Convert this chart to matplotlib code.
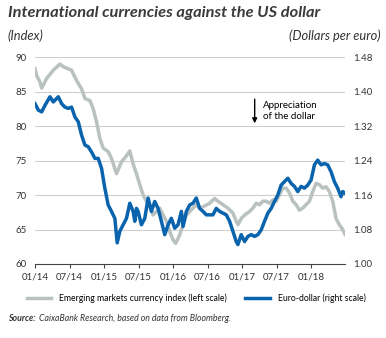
import numpy as np
import matplotlib
matplotlib.use("Agg")
import matplotlib.pyplot as plt
from matplotlib.lines import Line2D

plt.rcParams['font.family'] = ['Lato', 'DejaVu Sans']

# months counted from January 2014
em_months = [0, 0.29, 0.87, 1.16, 2.02, 3.18, 4.34, 4.92, 5.78, 6.36, 7.23, 8.10,
             8.68, 9.54, 10.12, 10.70, 11.28, 11.86, 12.72, 13.30, 14.17, 15.04,
             15.91, 16.48, 17.06, 17.64, 18.22, 18.80, 19.38, 19.96, 20.53, 21.11,
             21.69, 22.27, 22.85, 23.43, 24.00, 24.47, 25.16, 25.74, 26.32, 26.90,
             27.47, 28.05, 28.63, 29.21, 30.37, 31.23, 31.81, 32.68, 33.55, 34.41,
             34.99, 35.30, 35.86, 36.44, 37.31, 37.89, 38.46, 39.04, 39.62, 40.20,
             40.78, 41.36, 41.93, 42.51, 43.09, 43.67, 44.25, 44.83, 45.41, 45.98,
             46.56, 47.14, 47.72, 48.30, 48.88, 49.45, 50.03, 50.61, 51.19, 51.77,
             52.35, 52.92, 53.50, 53.91]
em_index = [88.3, 87.3, 86.4, 85.5, 86.9, 88.1, 89.0, 88.6, 88.3, 88.1, 86.6, 85.4,
            84.0, 83.7, 82.5, 80.6, 78.2, 76.8, 76.3, 75.3, 73.1, 74.8,
            75.7, 76.4, 74.5, 73.1, 71.5, 70.0, 69.1, 68.3, 67.1, 67.6,
            68.1, 67.1, 66.2, 64.7, 63.5, 63.0, 64.2, 65.7, 67.1, 67.6,
            68.1, 68.6, 68.1, 68.3, 68.8, 69.5, 69.1, 68.6, 68.1, 67.4,
            66.2, 65.7, 66.6, 67.1, 67.6, 68.1, 68.8, 68.6, 69.1, 69.1,
            68.8, 69.3, 69.1, 70.0, 71.0, 71.0, 70.3, 69.1, 68.6, 67.8,
            68.1, 68.6, 69.1, 70.5, 71.7, 71.5, 71.0, 71.2, 70.5, 69.1,
            66.6, 65.7, 65.0, 64.3]

eur_months = [0, 0.58, 1.16, 1.73, 2.60, 3.18, 4.05, 4.63, 5.20, 5.78, 6.36, 6.94,
              7.52, 8.10, 8.68, 9.25, 9.83, 10.41, 10.99, 11.57, 12.14, 12.72,
              13.30, 13.88, 14.29, 14.75, 15.33, 15.91, 16.48, 17.06, 17.35, 17.64,
              17.93, 18.22, 18.51, 19.09, 19.67, 20.24, 20.82, 21.40, 21.98, 22.56,
              23.14, 23.71, 24.29, 24.87, 25.45, 25.74, 26.32, 26.90, 27.47, 28.05,
              28.63, 29.21, 29.79, 30.37, 30.94, 31.52, 32.10, 32.68, 33.26, 33.84,
              34.41, 34.99, 35.28, 35.86, 36.44, 37.02, 37.60, 38.17, 38.75, 39.33,
              39.91, 40.49, 41.07, 41.64, 42.22, 42.80, 43.38, 43.96, 44.54, 45.12,
              45.69, 46.27, 46.85, 47.43, 48.01, 48.59, 49.16, 49.74, 50.32, 50.90,
              51.48, 52.06, 52.63, 53.21, 53.50, 53.91]
eur_usd = [1.372, 1.357, 1.353, 1.368, 1.388, 1.376, 1.388, 1.372, 1.364, 1.361, 1.364, 1.341,
           1.330, 1.299, 1.276, 1.272, 1.260, 1.245, 1.245, 1.222, 1.176, 1.137,
           1.122, 1.106, 1.049, 1.076, 1.091, 1.106, 1.141, 1.122, 1.099, 1.129,
           1.122, 1.106, 1.091, 1.106, 1.153, 1.122, 1.145, 1.129, 1.099, 1.068,
           1.091, 1.106, 1.083, 1.091, 1.122, 1.087, 1.122, 1.137, 1.141, 1.153,
           1.129, 1.122, 1.114, 1.114, 1.114, 1.129, 1.122, 1.118, 1.114, 1.099,
           1.076, 1.052, 1.045, 1.068, 1.052, 1.064, 1.068, 1.064, 1.068, 1.079,
           1.099, 1.118, 1.129, 1.145, 1.160, 1.183, 1.191, 1.199, 1.187, 1.180,
           1.168, 1.180, 1.176, 1.183, 1.195, 1.230, 1.241, 1.230, 1.233, 1.230,
           1.214, 1.191, 1.176, 1.156, 1.168, 1.164]

tick_months = [0, 6, 12, 18, 24, 30, 36, 42, 48]
tick_labels = ['01/14', '07/14', '01/15', '07/15', '01/16', '07/16', '01/17', '07/17', '01/18']
left_ticks = [60, 65, 70, 75, 80, 85, 90]
right_ticks = [1.00, 1.08, 1.16, 1.24, 1.32, 1.40, 1.48]

GRAY = '#b9c1c1'
BLUE = '#0a64ad'
TXT = '#333333'

fig = plt.figure(figsize=(3.86, 3.38), dpi=100)
ax = fig.add_axes([0.0907, 0.219, 0.803, 0.612])
ax2 = ax.twinx()

for y in left_ticks[1:]:
    ax.axhline(y, color='#cfcfcf', lw=0.8, zorder=0)

ax.plot(em_months, em_index, color=GRAY, lw=2.5, zorder=2)
ax2.plot(eur_months, eur_usd, color=BLUE, lw=2.5, zorder=3)

ax.set_xlim(0, 53.9)
ax.set_ylim(60, 90)
ax2.set_ylim(1.00, 1.48)
ax.set_yticks(left_ticks)
ax.set_yticklabels([str(v) for v in left_ticks])
ax2.set_yticks(right_ticks)
ax2.set_yticklabels([f'{v:.2f}' for v in right_ticks])
ax.set_xticks(tick_months)
ax.set_xticklabels(tick_labels)

for a in (ax, ax2):
    for s in ('top', 'left', 'right'):
        a.spines[s].set_visible(False)
    a.spines['bottom'].set_color('#444444')
    a.spines['bottom'].set_linewidth(0.8)
ax2.spines['bottom'].set_visible(False)
ax.tick_params(axis='x', length=3, width=0.8, color='#444444', labelsize=7, labelcolor=TXT, pad=3)
ax.tick_params(axis='y', length=0, labelsize=7, labelcolor=TXT, pad=6)
ax2.tick_params(axis='y', length=0, labelsize=7, labelcolor=TXT, pad=6)

ax.annotate('', xy=(38.2, 80.0), xytext=(38.2, 84.3),
            arrowprops=dict(arrowstyle='-|>', color='black', lw=1.0, mutation_scale=7))
ax.text(39.6, 82.2, 'Appreciation\nof the dollar', fontsize=7, color='black',
        va='center', ha='left', linespacing=1.2)

fig.text(0.02, 0.963, 'International currencies against the US dollar', fontsize=11.8,
         fontweight='bold', fontstyle='italic', color='#3a3a3a', va='center')
fig.text(0.02, 0.895, '(Index)', fontsize=9.3, fontstyle='italic', color=TXT, va='center')
fig.text(0.985, 0.895, '(Dollars per euro)', fontsize=9.3, fontstyle='italic', color=TXT,
         va='center', ha='right')

handles = [Line2D([], [], color=GRAY, lw=2.5), Line2D([], [], color=BLUE, lw=2.5)]
fig.legend(handles, ['Emerging markets currency index (left scale)', 'Euro-dollar (right scale)'],
           loc='center', bbox_to_anchor=(0.508, 0.118), ncol=2, frameon=False, fontsize=6.2,
           handlelength=2.9, columnspacing=2.1, handletextpad=0.9)

fig.text(0.02, 0.058, 'Source:', fontsize=6.3, fontweight='bold', fontstyle='italic',
         color=TXT, va='center')
fig.text(0.102, 0.058, 'CaixaBank Research, based on data from Bloomberg.', fontsize=6.3,
         fontstyle='italic', color=TXT, va='center')

fig.savefig('out.png', dpi=100)
